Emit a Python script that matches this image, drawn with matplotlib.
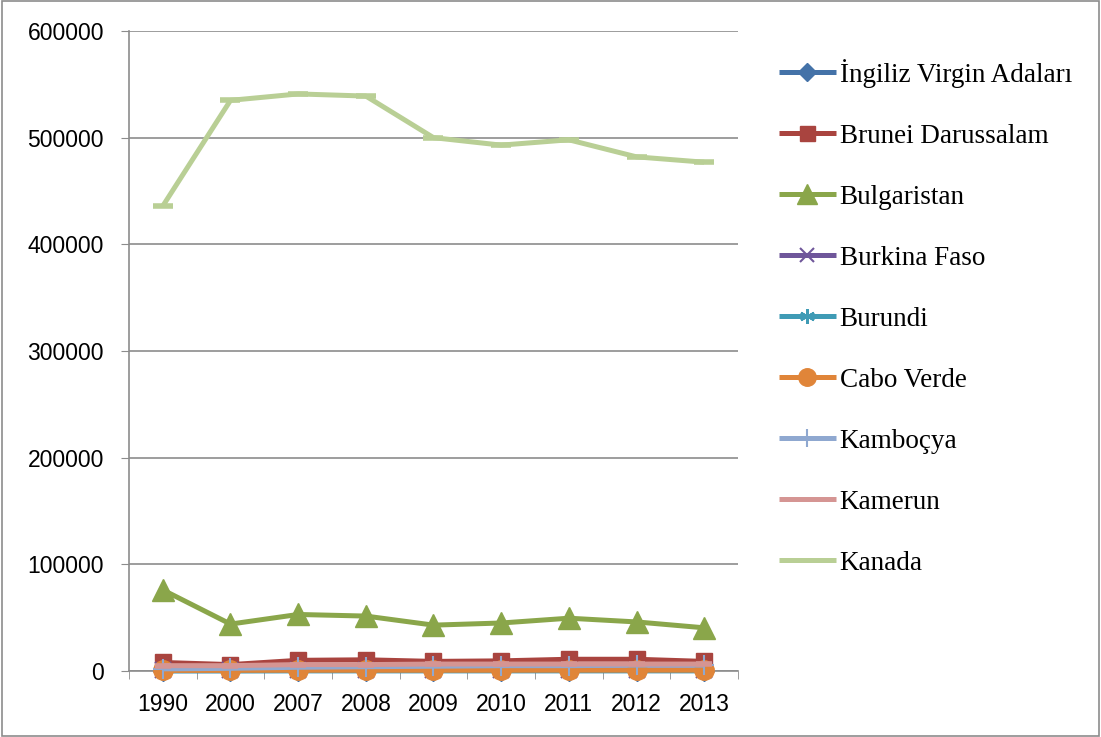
import matplotlib
matplotlib.use("Agg")
import matplotlib.pyplot as plt
from matplotlib.patches import Rectangle

years = ["1990", "2000", "2007", "2008", "2009", "2010", "2011", "2012", "2013"]

ingiliz = [300, 300, 400, 400, 400, 400, 400, 400, 400]
brunei = [8000, 6000, 10000, 10500, 9000, 9500, 11000, 11000, 9000]
bulgaristan = [76000, 44000, 53000, 51500, 43000, 45000, 49500, 46000, 40500]
burkina = [500, 600, 800, 900, 900, 900, 1000, 1000, 1000]
burundi = [100, 100, 150, 150, 150, 150, 150, 150, 150]
cabo_verde = [500, 600, 700, 700, 700, 700, 800, 800, 800]
kambocya = [2000, 2500, 3500, 4000, 4500, 5000, 5000, 5500, 5500]
kamerun = [5000, 5000, 6000, 6000, 6500, 6500, 6500, 6500, 6500]
kanada = [436000, 535000, 541000, 539000, 500000, 493000, 498000, 482000, 477000]

series = [
    ("İngiliz Virgin Adaları", ingiliz, "#4472A8", "D", 10),
    ("Brunei Darussalam", brunei, "#A9443F", "s", 12),
    ("Bulgaristan", bulgaristan, "#8AA64A", "^", 16),
    ("Burkina Faso", burkina, "#6F569A", "x", 11),
    ("Burundi", burundi, "#3F9BB5", (6, 2, 0), 12),
    ("Cabo Verde", cabo_verde, "#E08539", "o", 14),
    ("Kamboçya", kambocya, "#8FA8D0", "+", 15),
    ("Kamerun", kamerun, "#D59593", "_", 12),
    ("Kanada", kanada, "#B9CF95", "_", 14),
]

fig = plt.figure(figsize=(11.01, 7.37), dpi=100)
fig.patches.append(Rectangle((0.0015, 0.002), 0.997, 0.996, transform=fig.transFigure,
                             fill=False, edgecolor="#8c8c8c", linewidth=1.2))
ax = fig.add_axes([129 / 1101, 1 - 671 / 737, (738 - 129) / 1101, (671 - 31) / 737])

x = list(range(len(years)))
handles = []
for name, vals, col, mk, ms in series:
    mew = 1.5 if mk in ("x", (6, 2, 0), "+") else 4 if mk == "_" else 1
    h, = ax.plot(x, vals, color=col, lw=3.6, marker=mk, markersize=ms,
                 markeredgecolor=col, markerfacecolor=col, markeredgewidth=mew,
                 label=name, solid_capstyle="butt", zorder=3, clip_on=False)
    handles.append(h)

ax.set_xlim(-0.5, len(years) - 0.5)
ax.set_ylim(0, 600000)
ax.set_yticks(range(0, 600001, 100000))
ax.set_yticklabels([str(v) for v in range(0, 600001, 100000)])
ax.set_xticks(x)
ax.set_xticklabels(years)
ax.set_xticks([i + 0.5 for i in range(-1, len(years))], minor=True)
ax.tick_params(axis="x", which="major", length=0, pad=16)
ax.tick_params(axis="x", which="minor", length=6, color="#8c8c8c", direction="out")
ax.tick_params(axis="y", length=6, color="#8c8c8c", direction="out", pad=12)
for lbl in ax.get_xticklabels() + ax.get_yticklabels():
    lbl.set_fontfamily("Liberation Sans")
    lbl.set_fontsize(16.5)
    lbl.set_color("#000000")

ax.grid(axis="y", color="#8c8c8c", lw=1.2, zorder=0)
ax.set_axisbelow(True)
for s in ["top", "right"]:
    ax.spines[s].set_visible(False)
ax.spines["left"].set_color("#8c8c8c")
ax.spines["bottom"].set_color("#8c8c8c")
ax.spines["left"].set_linewidth(1.2)
ax.spines["bottom"].set_linewidth(1.2)

leg = fig.legend(handles=handles, loc="upper left", bbox_to_anchor=(768 / 1101, 1 - 48 / 737),
                 frameon=False, prop={"family": "Liberation Serif", "size": 19.5},
                 handlelength=2.1, handletextpad=0.15, labelspacing=1.33, borderaxespad=0)
for l in leg.get_lines():
    if l.get_marker() == "_":
        l.set_marker("None")
    else:
        l.set_markersize(l.get_markersize() * 0.9)

fig.savefig("out.png", dpi=100)
